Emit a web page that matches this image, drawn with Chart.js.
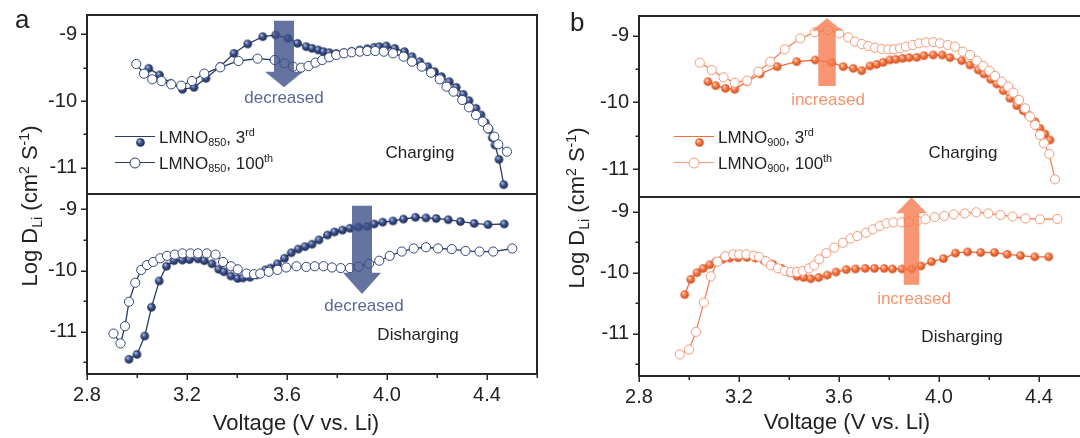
<!DOCTYPE html>
<html>
<head>
<meta charset="utf-8">
<script src="https://cdn.jsdelivr.net/npm/chart.js@4.4.1/dist/chart.umd.min.js"></script>
<style>
  html, body { margin: 0; padding: 0; background: #fff; }
  body { width: 1080px; height: 438px; overflow: hidden; position: relative;
         font-family: "Liberation Sans", Arial, sans-serif; color: #222; }
  canvas { position: absolute; }
  .txt { position: absolute; white-space: nowrap; line-height: 1; transform: translate(-50%, -50%); }
  .letter { position: absolute; font-size: 26px; line-height: 1; }
  .ytitle { position: absolute; white-space: nowrap; font-size: 22px; line-height: 1;
            transform: translate(-50%, -50%) rotate(-90deg); }
  .xtitle { position: absolute; white-space: nowrap; font-size: 22px; line-height: 1; transform: translate(-50%, -50%); }
  sub, sup { font-size: 0.64em; line-height: 0; }
  sub { vertical-align: -0.32em; }
  sup { vertical-align: 0.6em; }
  .legend { position: absolute; font-size: 17px; line-height: 1; }
  .legend .row { position: relative; height: 26px; display: flex; align-items: center; }
  .key { position: relative; width: 40px; height: 26px; margin-right: 4px; }
  .key::before { content: ''; position: absolute; left: 0; right: 0; top: 12px; height: 1.4px; background: var(--c); }
  .key .mk { position: absolute; left: 50%; top: 50%; transform: translate(-50%, -50%); }
  .key .open { width: 9px; height: 9px; border-radius: 50%; background: #fff; border: 1px solid var(--c); }
</style>
</head>
<body>
<canvas id="topA"></canvas>
<canvas id="botA"></canvas>
<canvas id="topB"></canvas>
<canvas id="botB"></canvas>

<div class="letter" style="left:15px; top:6px;">a</div>
<div class="letter" style="left:570px; top:9px;">b</div>

<div class="ytitle" style="left:30px; top:206px;">Log D<sub>Li</sub> (cm<sup>2</sup> S<sup>-1</sup>)</div>
<div class="ytitle" style="left:577px; top:208px;">Log D<sub>Li</sub> (cm<sup>2</sup> S<sup>-1</sup>)</div>
<div class="xtitle" style="left:296px; top:423px;">Voltage (V vs. Li)</div>
<div class="xtitle" style="left:847px; top:422px;">Voltage (V vs. Li)</div>

<div class="txt" style="left:420px; top:152px; font-size:17px;">Charging</div>
<div class="txt" style="left:418px; top:334px; font-size:17px;">Disharging</div>
<div class="txt" style="left:963px; top:152px; font-size:17px;">Charging</div>
<div class="txt" style="left:962px; top:336px; font-size:17px;">Disharging</div>

<div class="txt" style="left:284px; top:97px; font-size:17px; color:#5a6896;">decreased</div>
<div class="txt" style="left:364px; top:305px; font-size:17px; color:#5a6896;">decreased</div>
<div class="txt" style="left:828px; top:99px; font-size:17px; color:#f5936d;">increased</div>
<div class="txt" style="left:914px; top:298px; font-size:17px; color:#f5936d;">increased</div>

<div class="legend" style="left:115px; top:124px; --c:#2b3c6b;">
  <div class="row"><span class="key"><span class="mk" id="keyA"></span></span><span>LMNO<sub>850</sub>, 3<sup>rd</sup></span></div>
  <div class="row"><span class="key"><span class="mk open"></span></span><span>LMNO<sub>850</sub>, 100<sup>th</sup></span></div>
</div>
<div class="legend" style="left:674px; top:124px; --c:#f06b3d;">
  <div class="row"><span class="key"><span class="mk" id="keyB"></span></span><span>LMNO<sub>900</sub>, 3<sup>rd</sup></span></div>
  <div class="row"><span class="key" style="--c:#f39a78;"><span class="mk open"></span></span><span>LMNO<sub>900</sub>, 100<sup>th</sup></span></div>
</div>

<script>
// Voltage (V) vs. log D_Li, read per cycle
const chargeA3 = [[3.047,-9.51],[3.090,-9.61],[3.134,-9.735],[3.182,-9.825],[3.228,-9.795],[3.276,-9.66],
  [3.334,-9.48],[3.388,-9.285],[3.443,-9.145],[3.503,-9.035],[3.555,-9.01],[3.604,-9.06],[3.642,-9.135],
  [3.677,-9.185],[3.700,-9.21],[3.725,-9.235],[3.746,-9.26],[3.769,-9.275],[3.797,-9.285],[3.828,-9.275],
  [3.859,-9.255],[3.891,-9.235],[3.921,-9.215],[3.949,-9.195],[3.969,-9.185],[3.997,-9.175],[4.031,-9.21],
  [4.070,-9.26],[4.100,-9.335],[4.131,-9.41],[4.163,-9.485],[4.190,-9.56],[4.218,-9.635],[4.249,-9.71],
  [4.277,-9.795],[4.305,-9.90],[4.328,-9.995],[4.356,-10.11],[4.376,-10.21],[4.393,-10.325],[4.408,-10.425],
  [4.421,-10.55],[4.432,-10.66],[4.448,-10.875],[4.467,-11.255]];
const chargeA100 = [[2.997,-9.445],[3.028,-9.59],[3.061,-9.675],[3.098,-9.70],[3.137,-9.75],[3.177,-9.77],
  [3.220,-9.70],[3.269,-9.59],[3.333,-9.495],[3.406,-9.40],[3.482,-9.365],[3.551,-9.385],[3.590,-9.435],
  [3.624,-9.485],[3.656,-9.50],[3.686,-9.475],[3.714,-9.425],[3.741,-9.385],[3.769,-9.345],[3.797,-9.31],
  [3.828,-9.285],[3.859,-9.27],[3.891,-9.26],[3.921,-9.25],[3.953,-9.25],[3.987,-9.26],[4.024,-9.285],
  [4.066,-9.335],[4.100,-9.41],[4.139,-9.485],[4.176,-9.575],[4.211,-9.675],[4.238,-9.785],[4.266,-9.86],
  [4.301,-9.985],[4.328,-10.095],[4.356,-10.21],[4.383,-10.31],[4.404,-10.41],[4.429,-10.535],[4.445,-10.65],
  [4.480,-10.76]];
const dischargeA3 = [[2.968,-11.45],[3.000,-11.37],[3.031,-11.07],[3.058,-10.60],[3.089,-10.17],[3.118,-9.93],
  [3.148,-9.84],[3.182,-9.83],[3.210,-9.82],[3.244,-9.81],[3.269,-9.84],[3.300,-9.89],[3.327,-9.98],
  [3.348,-10.02],[3.376,-10.09],[3.403,-10.13],[3.424,-10.12],[3.452,-10.11],[3.479,-10.07],[3.514,-9.99],
  [3.534,-9.96],[3.562,-9.89],[3.590,-9.80],[3.617,-9.71],[3.645,-9.65],[3.672,-9.61],[3.700,-9.57],
  [3.728,-9.50],[3.762,-9.42],[3.790,-9.37],[3.822,-9.34],[3.852,-9.31],[3.886,-9.29],[3.921,-9.28],
  [3.949,-9.24],[3.983,-9.21],[4.024,-9.19],[4.066,-9.16],[4.114,-9.13],[4.156,-9.14],[4.197,-9.15],
  [4.245,-9.17],[4.294,-9.20],[4.349,-9.23],[4.404,-9.25],[4.469,-9.24]];
const dischargeA100 = [[2.906,-11.03],[2.934,-11.19],[2.952,-10.91],[2.968,-10.51],[2.993,-10.20],[3.017,-9.99],
  [3.040,-9.91],[3.065,-9.86],[3.093,-9.80],[3.120,-9.76],[3.151,-9.74],[3.182,-9.72],[3.214,-9.72],
  [3.244,-9.72],[3.279,-9.72],[3.314,-9.74],[3.344,-9.86],[3.376,-9.93],[3.403,-9.98],[3.438,-10.05],
  [3.468,-10.06],[3.493,-10.05],[3.527,-10.02],[3.562,-9.99],[3.597,-9.95],[3.638,-9.93],[3.677,-9.94],
  [3.711,-9.93],[3.746,-9.93],[3.780,-9.95],[3.815,-9.96],[3.852,-9.96],[3.886,-9.94],[3.928,-9.89],
  [3.969,-9.84],[4.011,-9.76],[4.059,-9.69],[4.107,-9.64],[4.156,-9.62],[4.204,-9.64],[4.259,-9.65],
  [4.314,-9.68],[4.370,-9.69],[4.425,-9.69],[4.501,-9.64]];
const chargeB3 = [[3.076,-9.69],[3.107,-9.75],[3.146,-9.79],[3.183,-9.805],[3.232,-9.69],[3.284,-9.575],
  [3.353,-9.465],[3.431,-9.39],[3.505,-9.365],[3.571,-9.405],[3.617,-9.465],[3.657,-9.49],[3.691,-9.525],
  [3.724,-9.455],[3.751,-9.43],[3.777,-9.40],[3.804,-9.365],[3.828,-9.355],[3.855,-9.34],[3.881,-9.33],
  [3.911,-9.325],[3.940,-9.30],[3.977,-9.29],[4.013,-9.29],[4.044,-9.33],[4.091,-9.375],[4.124,-9.44],
  [4.157,-9.515],[4.180,-9.575],[4.207,-9.655],[4.231,-9.725],[4.257,-9.825],[4.284,-9.94],[4.311,-10.05],
  [4.337,-10.125],[4.357,-10.19],[4.384,-10.29],[4.404,-10.39],[4.424,-10.475],[4.444,-10.565]];
const chargeB100 = [[3.043,-9.405],[3.091,-9.515],[3.138,-9.625],[3.183,-9.705],[3.232,-9.675],[3.277,-9.54],
  [3.325,-9.39],[3.383,-9.205],[3.445,-9.04],[3.503,-8.95],[3.556,-8.915],[3.601,-8.965],[3.637,-9.025],
  [3.664,-9.09],[3.691,-9.125],[3.717,-9.155],[3.744,-9.18],[3.771,-9.20],[3.797,-9.205],[3.820,-9.205],
  [3.844,-9.19],[3.868,-9.165],[3.895,-9.14],[3.921,-9.115],[3.948,-9.10],[3.977,-9.095],[4.004,-9.115],
  [4.035,-9.14],[4.064,-9.165],[4.095,-9.24],[4.124,-9.29],[4.151,-9.375],[4.177,-9.455],[4.201,-9.525],
  [4.224,-9.605],[4.251,-9.69],[4.277,-9.765],[4.297,-9.855],[4.320,-9.965],[4.344,-10.09],[4.364,-10.215],
  [4.384,-10.34],[4.404,-10.49],[4.420,-10.615],[4.441,-10.775],[4.464,-11.155]];
const dischargeB3 = [[2.983,-10.36],[3.007,-10.11],[3.032,-10.00],[3.057,-9.93],[3.083,-9.87],[3.108,-9.82],
  [3.135,-9.78],[3.164,-9.76],[3.197,-9.755],[3.232,-9.75],[3.266,-9.76],[3.300,-9.80],[3.335,-9.86],
  [3.370,-9.93],[3.404,-10.00],[3.432,-10.06],[3.459,-10.08],[3.487,-10.10],[3.519,-10.08],[3.553,-10.04],
  [3.588,-9.99],[3.629,-9.95],[3.666,-9.94],[3.705,-9.93],[3.742,-9.93],[3.781,-9.93],[3.814,-9.94],
  [3.852,-9.94],[3.891,-9.94],[3.928,-9.89],[3.970,-9.82],[4.018,-9.77],[4.066,-9.68],[4.114,-9.66],
  [4.167,-9.67],[4.222,-9.67],[4.273,-9.70],[4.326,-9.72],[4.383,-9.74],[4.439,-9.74]];
const dischargeB100 = [[2.963,-11.34],[3.000,-11.26],[3.028,-10.97],[3.059,-10.49],[3.087,-10.06],[3.114,-9.82],
  [3.145,-9.73],[3.177,-9.70],[3.201,-9.70],[3.229,-9.70],[3.259,-9.72],[3.280,-9.74],[3.308,-9.81],
  [3.328,-9.88],[3.356,-9.93],[3.383,-9.97],[3.408,-9.99],[3.432,-9.99],[3.455,-9.97],[3.480,-9.93],
  [3.501,-9.88],[3.521,-9.78],[3.549,-9.68],[3.581,-9.59],[3.615,-9.51],[3.646,-9.44],[3.673,-9.40],
  [3.708,-9.345],[3.735,-9.29],[3.763,-9.235],[3.790,-9.19],[3.818,-9.175],[3.850,-9.175],[3.880,-9.165],
  [3.914,-9.15],[3.946,-9.125],[3.983,-9.09],[4.021,-9.07],[4.059,-9.045],[4.103,-9.03],[4.149,-9.01],
  [4.197,-9.03],[4.246,-9.055],[4.294,-9.08],[4.346,-9.11],[4.404,-9.125],[4.473,-9.12]];

const voltTicks = [2.8, 3.2, 3.6, 4.0, 4.4];
const voltMinor = [3.0, 3.4, 3.8, 4.2, 4.6];
const logTicks = [-9, -10, -11];
const logMinor = [-9.5, -10.5, -11.5];

const FONT = '"Liberation Sans", Arial, sans-serif';
const NAVY = '#2b3c6b';
const ORANGE = '#f06b3d';

// shaded "ball" symbol used for the 3rd-cycle markers
function ball(c0, c1, c2, r) {
  const cv = document.createElement('canvas');
  const s = Math.ceil(r * 2) + 2;
  cv.width = cv.height = s;
  const g = cv.getContext('2d');
  const m = s / 2;
  const grad = g.createRadialGradient(m - r * 0.35, m - r * 0.4, r * 0.1, m, m, r);
  grad.addColorStop(0, c0);
  grad.addColorStop(0.45, c1);
  grad.addColorStop(1, c2);
  g.fillStyle = grad;
  g.beginPath();
  g.arc(m, m, r, 0, Math.PI * 2);
  g.fill();
  return cv;
}
const ballA = () => ball('#a9b8de', '#3d528c', '#18264e', 4.3);
const ballB = () => ball('#ffd2b8', '#f47846', '#d24a1a', 4.3);
document.getElementById('keyA').appendChild(ballA());
document.getElementById('keyB').appendChild(ballB());

const pts = arr => arr.map(([x, y]) => ({ x, y }));

function filledSet(arr, line, img) {
  return { data: pts(arr), showLine: true, borderColor: line, borderWidth: 1.3,
           pointStyle: img, pointRadius: 4.3, order: 1 };
}
function openSet(arr, line, edge) {
  return { data: pts(arr), showLine: true, borderColor: line, borderWidth: 1.3,
           pointStyle: 'circle', pointRadius: 4.6, pointBorderWidth: 1,
           pointBorderColor: edge, pointBackgroundColor: '#fff', order: 0 };
}

// box frame plus outward major / minor tick marks
const framePlugin = {
  id: 'frame',
  afterDraw(chart, args, opts) {
    const { ctx, chartArea: a, scales: { x, y } } = chart;
    ctx.save();
    ctx.strokeStyle = '#262626';
    ctx.lineWidth = 2;
    ctx.strokeRect(a.left, a.top, a.right - a.left, a.bottom - a.top);
    ctx.lineWidth = 1.5;
    ctx.beginPath();
    logTicks.concat(logMinor).forEach(v => {
      if (v < y.min || v > y.max) return;
      const py = Math.round(y.getPixelForValue(v)) + 0.25;
      const len = logTicks.includes(v) ? 6 : 3.5;
      ctx.moveTo(a.left - len, py);
      ctx.lineTo(a.left, py);
    });
    if (opts.xTicks) {
      voltTicks.concat(voltMinor).forEach(v => {
        const px = Math.round(x.getPixelForValue(v)) + 0.25;
        const len = voltTicks.includes(v) ? 6 : 4;
        ctx.moveTo(px, a.bottom);
        ctx.lineTo(px, a.bottom + len);
      });
    }
    ctx.stroke();
    ctx.restore();
  }
};

// translucent block arrow, placed in data units
const arrowPlugin = {
  id: 'arrow',
  afterDatasetsDraw(chart, args, opts) {
    const ar = opts.shape;
    if (!ar) return;
    const { ctx, scales: { x, y } } = chart;
    const px = x.getPixelForValue(ar.v);
    const yt = y.getPixelForValue(ar.tail);
    const yb = y.getPixelForValue(ar.base);
    const yp = y.getPixelForValue(ar.tip);
    const s = ar.shaft / 2, h = ar.head / 2;
    ctx.save();
    ctx.fillStyle = ar.color;
    ctx.beginPath();
    ctx.moveTo(px - s, yt);
    ctx.lineTo(px + s, yt);
    ctx.lineTo(px + s, yb);
    ctx.lineTo(px + h, yb);
    ctx.lineTo(px, yp);
    ctx.lineTo(px - h, yb);
    ctx.lineTo(px - s, yb);
    ctx.closePath();
    ctx.fill();
    ctx.restore();
  }
};

const X_AXIS_H = 40;

function subplot(id, cv, plot, yMin, yMax, datasets, arrow, showX) {
  const el = document.getElementById(id);
  el.width = cv.w; el.height = cv.h;
  el.style.left = cv.x + 'px'; el.style.top = cv.y + 'px';
  const padBottom = cv.y + cv.h - plot.b - (showX ? X_AXIS_H : 0);
  return new Chart(el, {
    type: 'scatter',
    data: { datasets },
    options: {
      responsive: false,
      animation: false,
      events: [],
      layout: { autoPadding: false,
                padding: { left: 0, top: plot.t - cv.y, right: cv.x + cv.w - plot.r, bottom: padBottom } },
      plugins: {
        legend: { display: false },
        tooltip: { enabled: false },
        frame: { xTicks: showX },
        arrow: { shape: arrow }
      },
      scales: {
        x: {
          type: 'linear', min: 2.8, max: 4.6, display: showX,
          grid: { display: false, drawTicks: false }, border: { display: false },
          afterBuildTicks: s => { s.ticks = voltTicks.map(v => ({ value: v })); },
          afterFit: s => {
            s.height = showX ? X_AXIS_H : 0;
            s.paddingLeft = 0; s.paddingRight = 0;
          },
          ticks: { padding: 9, color: '#222', font: { family: FONT, size: 20 },
                   maxRotation: 0, callback: v => v.toFixed(1) }
        },
        y: {
          type: 'linear', min: yMin, max: yMax,
          grid: { display: false, drawTicks: false }, border: { display: false },
          afterBuildTicks: s => { s.ticks = logTicks.map(v => ({ value: v })); },
          afterFit: s => {
            s.width = plot.l - cv.x;
            s.paddingTop = 0; s.paddingBottom = 0;
          },
          ticks: { padding: 10, color: '#222', font: { family: FONT, size: 20 },
                   callback: v => String(v) }
        }
      }
    },
    plugins: [framePlugin, arrowPlugin]
  });
}

const arrowA = 'rgba(61, 80, 136, 0.8)';
const arrowB = 'rgba(246, 124, 80, 0.8)';

subplot('topA', { x: 0, y: 0, w: 560, h: 202 }, { l: 87, r: 537, t: 15, b: 194 }, -11.395, -8.71,
  [filledSet(chargeA3, NAVY, ballA()), openSet(chargeA100, NAVY, '#34487a')],
  { v: 3.588, tail: -8.795, base: -9.56, tip: -9.795, shaft: 20, head: 38, color: arrowA }, false);

subplot('botA', { x: 0, y: 186, w: 560, h: 252 }, { l: 87, r: 537, t: 194, b: 374 }, -11.69, -8.75,
  [filledSet(dischargeA3, NAVY, ballA()), openSet(dischargeA100, NAVY, '#34487a')],
  { v: 3.90, tail: -8.94, base: -10.036, tip: -10.385, shaft: 20, head: 38, color: arrowA }, true);

subplot('topB', { x: 560, y: 0, w: 540, h: 205 }, { l: 639, r: 1089, t: 16, b: 197 }, -11.42, -8.705,
  [filledSet(chargeB3, ORANGE, ballB()), openSet(chargeB100, '#f2825a', '#f39a78')],
  { v: 3.552, tail: -9.755, base: -8.926, tip: -8.74, shaft: 17.5, head: 31, color: arrowB }, false);

subplot('botB', { x: 560, y: 189, w: 540, h: 249 }, { l: 639, r: 1089, t: 197, b: 376 }, -11.694, -8.76,
  [filledSet(dischargeB3, ORANGE, ballB()), openSet(dischargeB100, '#f2825a', '#f39a78')],
  { v: 3.89, tail: -10.20, base: -9.027, tip: -8.765, shaft: 15.5, head: 31, color: arrowB }, true);
</script>
</body>
</html>
